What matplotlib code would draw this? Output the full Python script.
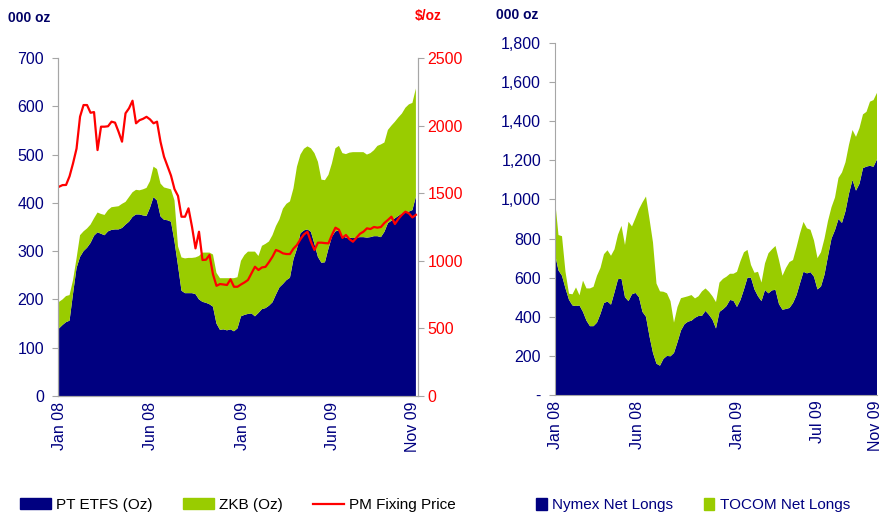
import numpy as np
import matplotlib
matplotlib.use("Agg")
import matplotlib.pyplot as plt
from matplotlib.patches import Patch
from matplotlib.lines import Line2D
from matplotlib.ticker import FuncFormatter

plt.rcParams['font.family'] = ['Liberation Sans', 'DejaVu Sans']

# ---- left chart: weekly, Jan 08 .. Nov 09 (000 oz, $/oz) ----
pt_etfs = [140, 147, 153, 156, 212, 265, 288, 300, 307, 317, 332, 339, 336, 333, 341,
           344, 345, 345, 348, 355, 361, 371, 376, 376, 374, 373, 390, 412, 405, 372,
           365, 364, 361, 320, 270, 218, 213, 213, 213, 211, 200, 195, 193, 190, 185,
           150, 137, 138, 136, 138, 134, 140, 165, 168, 170, 171, 165, 172, 180, 182,
           187, 194, 210, 225, 232, 240, 245, 283, 305, 337, 343, 345, 340, 315, 288,
           276, 277, 305, 330, 341, 343, 332, 328, 328, 327, 328, 329, 329, 328, 329,
           331, 331, 329, 340, 358, 363, 368, 373, 378, 380, 382, 385, 413]
zkb = [55, 53, 54, 53, 28, 20, 45, 41, 40, 38, 36, 41, 41, 42, 44,
       47, 47, 48, 50, 47, 51, 51, 51, 50, 54, 58, 55, 63, 65, 68,
       67, 66, 67, 85, 40, 69, 72, 73, 73, 76, 90, 102, 104, 107, 108,
       105, 107, 106, 108, 106, 110, 106, 115, 124, 129, 128, 134, 118, 131, 133,
       133, 139, 142, 141, 156, 158, 158, 147, 170, 163, 169, 172, 173, 188, 197,
       172, 170, 153, 152, 172, 175, 171, 173, 176, 178, 177, 176, 176, 172, 174,
       178, 187, 192, 185, 193, 197, 200, 204, 207, 217, 222, 222, 224]
pm_fix = [1548, 1560, 1561, 1625, 1721, 1830, 2066, 2152, 2152, 2095, 2100, 1819, 1992, 1992, 1995,
          2029, 2022, 1955, 1881, 2091, 2128, 2184, 2017, 2040, 2050, 2065, 2046, 2017, 2029, 1880,
          1770, 1700, 1630, 1530, 1480, 1326, 1326, 1388, 1252, 1092, 1215, 1006, 1008, 1043, 900,
          815, 828, 825, 821, 863, 808, 808, 825, 840, 858, 907, 956, 932, 951, 955,
          990, 1030, 1080, 1070, 1055, 1050, 1050, 1090, 1117, 1160, 1195, 1215, 1141, 1080, 1134,
          1134, 1131, 1129, 1191, 1245, 1230, 1170, 1191, 1160, 1141, 1170, 1200, 1215, 1240, 1235,
          1250, 1245, 1250, 1280, 1302, 1326, 1272, 1310, 1340, 1363, 1351, 1321, 1340]
left_ticks = [0, 26, 52.3, 78.3, 101]
left_labels = ["Jan 08", "Jun 08", "Jan 09", "Jun 09", "Nov 09"]

# ---- right chart: weekly net longs (000 oz) ----
nymex = [720, 637, 610, 545, 487, 458, 455, 458, 425, 380, 352, 352, 370, 415, 470,
         478, 462, 525, 592, 595, 500, 480, 515, 522, 500, 425, 400, 300, 215, 160,
         150, 185, 200, 198, 215, 270, 330, 362, 375, 380, 395, 404, 405, 430, 410,
         385, 340, 425, 438, 455, 486, 482, 450, 486, 540, 600, 600, 540, 505, 480,
         537, 520, 535, 538, 465, 436, 440, 445, 470, 510, 571, 630, 622, 628, 605,
         540, 555, 615, 710, 800, 843, 900, 880, 940, 1030, 1100, 1045, 1080, 1160, 1168,
         1172, 1167, 1205]
tocom = [280, 181, 202, 85, 31, 57, 95, 52, 160, 165, 193, 201, 240, 235, 250,
         262, 250, 220, 228, 270, 267, 406, 347, 383, 450, 560, 615, 600, 565, 410,
         380, 343, 320, 282, 155, 180, 165, 138, 130, 131, 99, 101, 125, 115, 118,
         120, 135, 150, 156, 150, 134, 138, 180, 199, 190, 142, 65, 85, 125, 95,
         136, 205, 210, 224, 225, 174, 210, 235, 220, 245, 255, 255, 230, 217, 185,
         160, 175, 185, 180, 160, 167, 210, 258, 250, 250, 255, 275, 285, 275, 280,
         328, 341, 340]
right_ticks = [0, 23.5, 52, 75, 91.5]
right_labels = ["Jan 08", "Jun 08", "Jan 09", "Jul 09", "Nov 09"]

NAVY = "#000080"
GREEN = "#99CC00"
RED = "#FF0000"
GREY = "#A6A6A6"
W, H = 881, 519

fig = plt.figure(figsize=(W / 100, H / 100), dpi=100)

# left chart
ax = fig.add_axes([58 / W, 1 - 396 / H, 360 / W, 338 / H])
xl = np.arange(len(pt_etfs))
ax.stackplot(xl, pt_etfs, zkb, colors=[NAVY, GREEN], linewidth=0)
ax.set_xlim(-0.3, 102.6)
ax.set_ylim(0, 700)
ax.set_yticks(range(0, 701, 100))
ax.set_xticks(left_ticks)
ax.set_xticklabels(left_labels, rotation=90)
ax2 = ax.twinx()
ax2.plot(xl, pm_fix, color=RED, lw=1.6)
ax2.set_ylim(0, 2500)
ax2.set_yticks(range(0, 2501, 500))

for a in (ax, ax2):
    for s in a.spines.values():
        s.set_color(GREY)
    a.spines['top'].set_visible(False)
ax.tick_params(axis='y', colors=GREY, labelcolor=NAVY, labelsize=11.5, length=4, pad=6)
ax.tick_params(axis='x', length=0, labelcolor=NAVY, labelsize=11.5, pad=4)
ax2.tick_params(axis='y', colors=GREY, labelcolor=RED, labelsize=11.5, length=4, pad=3)

# right chart
bx = fig.add_axes([555 / W, 1 - 395 / H, 322 / W, 352 / H])
xr = np.arange(len(nymex))
bx.stackplot(xr, nymex, tocom, colors=[NAVY, GREEN], linewidth=0)
bx.set_xlim(0, len(nymex) - 1)
bx.set_ylim(0, 1800)
bx.set_yticks(range(0, 1801, 200))
bx.yaxis.set_major_formatter(FuncFormatter(lambda v, p: "-" if v == 0 else f"{v:,.0f}"))
bx.set_xticks(right_ticks)
bx.set_xticklabels(right_labels, rotation=90)
for s in ('top', 'right'):
    bx.spines[s].set_visible(False)
for s in ('left', 'bottom'):
    bx.spines[s].set_color(GREY)
bx.tick_params(axis='y', colors=GREY, labelcolor=NAVY, labelsize=11.5, length=4, pad=6)
bx.tick_params(axis='x', length=0, labelcolor=NAVY, labelsize=11.5, pad=4)

# unit labels
fig.text(8 / W, 1 - 22 / H, "000 oz", color="#000066", fontsize=10, fontweight="bold")
fig.text(415 / W, 1 - 20 / H, "$/oz", color=RED, fontsize=10, fontweight="bold")
fig.text(496 / W, 1 - 19 / H, "000 oz", color="#000066", fontsize=10, fontweight="bold")

# legends
h1 = [Patch(color=NAVY), Patch(color=GREEN), Line2D([], [], color=RED, lw=1.6)]
fig.legend(h1, ["PT ETFS (Oz)", "ZKB (Oz)", "PM Fixing Price"], loc="center left",
           bbox_to_anchor=(20 / W, 1 - 505 / H), ncol=3, frameon=False, fontsize=11,
           handlelength=2.0, handleheight=0.75, handletextpad=0.35, columnspacing=2.0,
           borderpad=0, borderaxespad=0)
h2 = [Patch(color=NAVY), Patch(color=GREEN)]
fig.legend(h2, ["Nymex Net Longs", "TOCOM Net Longs"], loc="center left",
           bbox_to_anchor=(536 / W, 1 - 505 / H), ncol=2, frameon=False, fontsize=11,
           handlelength=0.7, handleheight=0.9, handletextpad=0.35, columnspacing=2.0,
           borderpad=0, borderaxespad=0, labelcolor=NAVY)

fig.savefig("out.png", dpi=100)
